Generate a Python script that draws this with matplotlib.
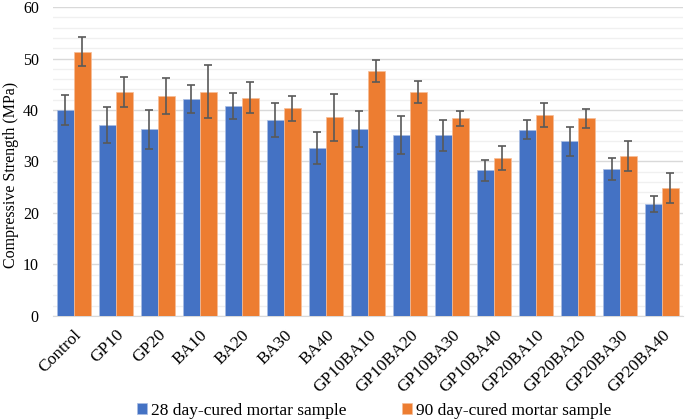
import numpy as np
import matplotlib.pyplot as plt
from matplotlib.ticker import MultipleLocator

plt.rcParams['font.family'] = ['Liberation Serif', 'DejaVu Serif']

# data
mixes = ['Control', 'GP10', 'GP20', 'BA10', 'BA20', 'BA30', 'BA40',
         'GP10BA10', 'GP10BA20', 'GP10BA30', 'GP10BA40',
         'GP20BA10', 'GP20BA20', 'GP20BA30', 'GP20BA40']
day28 = [40.0, 37.1, 36.3, 42.1, 40.8, 38.1, 32.7, 36.4, 35.1, 35.1, 28.3, 36.2, 33.9, 28.5, 21.7]
day28_err = [3.0, 3.5, 3.8, 2.7, 2.6, 3.3, 3.1, 3.5, 3.7, 3.0, 2.0, 1.9, 2.9, 2.1, 1.6]
day90 = [51.3, 43.5, 42.7, 43.6, 42.4, 40.3, 38.6, 47.6, 43.5, 38.4, 30.7, 39.1, 38.4, 31.1, 24.9]
day90_err = [2.8, 3.0, 3.5, 5.2, 3.0, 2.5, 4.6, 2.1, 2.1, 1.5, 2.3, 2.3, 1.8, 2.9, 2.9]

x = np.arange(len(mixes))
w = 0.4

fig = plt.figure(figsize=(6.85, 4.2), dpi=100)
ax = fig.add_axes([0.077, 0.248, 0.92, 0.735])

err_style = dict(ecolor='#595959', elinewidth=1.2, capsize=3, capthick=1.2)
ax.bar(x - w/2, day28, w, yerr=day28_err, color='#4472C4', edgecolor='#a9bde3',
       linewidth=0.5, label='28 day-cured mortar sample', error_kw=err_style, zorder=3)
ax.bar(x + w/2, day90, w, yerr=day90_err, color='#ED7D31', edgecolor='#f6bd98',
       linewidth=0.5, label='90 day-cured mortar sample', error_kw=err_style, zorder=3)

ax.set_xlim(-0.5, len(mixes) - 0.5)
ax.set_ylim(0, 60)
ax.yaxis.set_major_locator(MultipleLocator(10))
ax.yaxis.set_minor_locator(MultipleLocator(2))
ax.grid(axis='y', which='major', color='#d9d9d9', linewidth=1.0, zorder=0)
ax.grid(axis='y', which='minor', color='#f0f0f0', linewidth=1.0, zorder=0)
ax.set_axisbelow(True)

for s in ['top', 'right', 'left']:
    ax.spines[s].set_visible(False)
ax.spines['bottom'].set_color('#d9d9d9')
ax.tick_params(axis='both', which='both', length=0)
ax.tick_params(axis='y', labelsize=11.5, pad=10)
ax.tick_params(axis='x', pad=8)

ax.set_xticks(x)
ax.set_xticklabels(mixes, rotation=45, ha='right', rotation_mode='anchor', fontsize=12.5)
ax.set_ylabel('Compressive Strength (MPa)', fontsize=11.5)
ax.yaxis.set_label_coords(-0.054, 0.455)

ax.legend(loc='lower center', bbox_to_anchor=(0.51, -0.385), ncol=2, frameon=False,
          fontsize=12.5, handlelength=0.6, handleheight=0.6, handletextpad=0.2,
          columnspacing=3.2)

fig.savefig('out.png', dpi=100)
